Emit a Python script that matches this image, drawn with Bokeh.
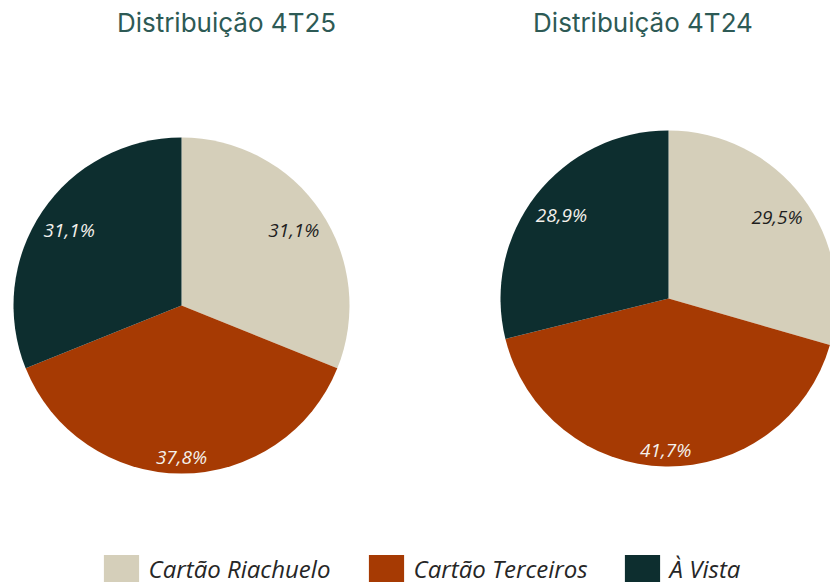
import math
from bokeh.plotting import figure
from bokeh.models import Range1d, Legend, LegendItem, ColumnDataSource
from bokeh.core.properties import value
from bokeh.embed import file_html
from bokeh.resources import INLINE

# ---------------- data ----------------
categories = ["Cartão Riachuelo", "Cartão Terceiros", "À Vista"]
values_4t25 = [31.1, 37.8, 31.1]
values_4t24 = [29.5, 41.7, 28.9]
labels_4t25 = ["31,1%", "37,8%", "31,1%"]
labels_4t24 = ["29,5%", "41,7%", "28,9%"]
titles = ["Distribuição 4T25", "Distribuição 4T24"]

# ---------------- style ----------------
colors = ["#d5cfba", "#a63a03", "#0d2e2f"]
label_colors = ["#1e1e1e", "#f4f1ec", "#f4f1ec"]
title_color = "#2d5a55"

W, H = 830, 585
p = figure(width=W, height=H, x_range=Range1d(0, W), y_range=Range1d(0, H),
           output_backend="svg", toolbar_location=None, min_border=0,
           x_axis_type=None, y_axis_type=None)
p.grid.visible = False
p.outline_line_color = None
p.background_fill_color = "white"

R = 168
centers = [(181, 280), (668, 287)]
title_pos = [(226, 563), (642.5, 563)]
box_half = (28, 11)
pad = 3

renderers = []
for (cx, cy), vals, labs, ttl, tpos in zip(centers, [values_4t25, values_4t24],
                                           [labels_4t25, labels_4t24], titles, title_pos):
    total = sum(vals)
    starts, ends, lx, ly = [], [], [], []
    cum = 0.0
    for v in vals:
        a0 = math.pi / 2 - 2 * math.pi * cum / total
        cum += v
        a1 = math.pi / 2 - 2 * math.pi * cum / total
        starts.append(a0)
        ends.append(a1)
        mid = (a0 + a1) / 2
        ux, uy = math.cos(mid), math.sin(mid)
        cxh, cyh = box_half
        uc = abs(ux) * cxh + abs(uy) * cyh
        d = -uc + math.sqrt(uc * uc - (cxh ** 2 + cyh ** 2) + (R - pad) ** 2)
        lx.append(cx + d * ux)
        ly.append(cy + d * uy)
    src = ColumnDataSource(dict(x=[cx] * 3, y=[cy] * 3, start=starts, end=ends,
                                color=colors, cat=categories))
    r = p.wedge(x="x", y="y", radius=R, start_angle="start", end_angle="end",
                direction="clock", fill_color="color", line_color=None, source=src)
    renderers.append(r)
    lsrc = ColumnDataSource(dict(x=lx, y=ly, t=labs, c=label_colors))
    p.text(x="x", y="y", text="t", text_color="c", source=lsrc,
           text_align="center", text_baseline="middle",
           text_font=value("Open Sans"), text_font_style="italic", text_font_size="19px")
    p.text(x=[tpos[0]], y=[tpos[1]], text=[ttl], text_color=title_color,
           text_align="center", text_baseline="middle",
           text_font=value("Inter"), text_font_size="26px")

# legend: one entry per category
legend_x = [103, 368, 624]   # left edge of the swatch (page px)
for i, (cat, sx) in enumerate(zip(categories, legend_x)):
    leg = Legend(items=[LegendItem(label=value(cat), renderers=[renderers[0]], index=i)],
                 location=(sx - 4.4, 0), orientation="horizontal",
                 glyph_width=44, glyph_height=34, label_height=34, label_standoff=6,
                 padding=0, margin=0, border_line_color=None, background_fill_alpha=0,
                 label_text_font="Open Sans", label_text_font_style="italic",
                 label_text_font_size="24px", label_text_color="#262626")
    p.add_layout(leg, "center")

open("out.html", "w").write(file_html(p, INLINE))
